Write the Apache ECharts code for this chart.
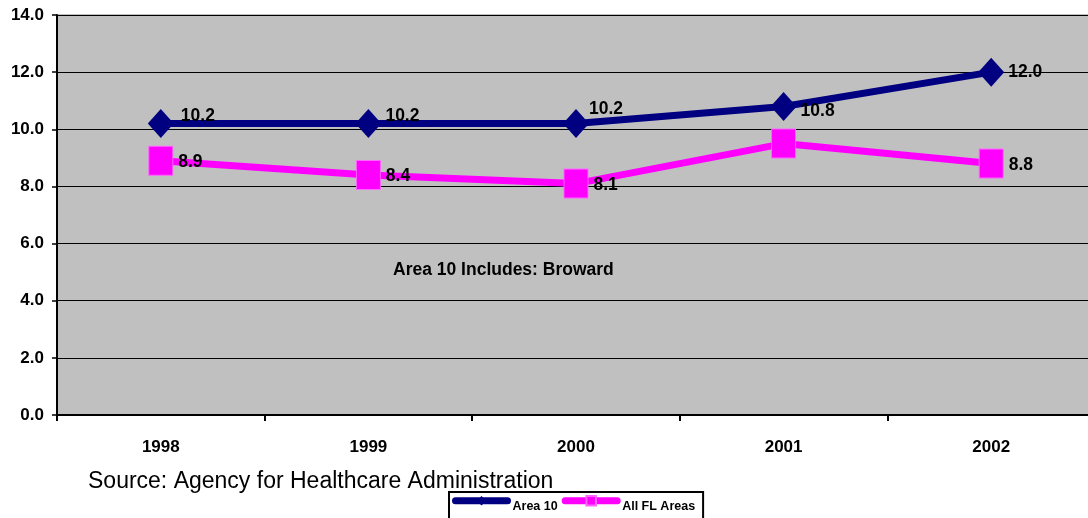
<!DOCTYPE html>
<html><head><meta charset="utf-8">
<script src="https://cdn.jsdelivr.net/npm/echarts@6/dist/echarts.min.js"></script>
<style>html,body{margin:0;padding:0;background:#fff}#c{width:1088px;height:518px}</style>
</head><body><div id="c"></div>
<script>
var categories = ['1998','1999','2000','2001','2002'];
var area10 = [10.2, 10.2, 10.2, 10.8, 12.0];
var allFL = [8.9, 8.4, 8.1, 9.5, 8.8];
var hiddenLabelsAllFL = [false, false, false, true, false];
var yTicks = {min: 0, max: 14, interval: 2};

// label placement tweaks (style only)
var area10LabelOffsets = [[3, -7], [0, -7], [-4, -14], [0, 5], [0, 0]];
var allFLLabelOffsets = [[1, 1], [1, 1], [1, 2], [1, 1], [1, 2]];

var chart = echarts.init(document.getElementById('c'));
var font = '"Liberation Sans", Arial, sans-serif';
function fmt(p){ return p.value.toFixed(1); }
chart.setOption({
  animation: false,
  grid: {left: 57, width: 1038, top: 15, height: 400, outerBoundsMode: 'none', containLabel: false, show: true, backgroundColor: '#C0C0C0', borderColor: '#808080', borderWidth: 1},
  xAxis: {
    type: 'category', data: categories, boundaryGap: true,
    axisLine: {lineStyle: {color: '#000', width: 2}},
    axisTick: {show: true, length: 6, lineStyle: {color: '#000', width: 2}},
    axisLabel: {color: '#000', fontFamily: font, fontWeight: 'bold', fontSize: 17, margin: 24}
  },
  yAxis: {
    type: 'value', min: yTicks.min, max: yTicks.max, interval: yTicks.interval,
    axisLine: {show: true, lineStyle: {color: '#000', width: 2}},
    axisTick: {show: true, length: 5, lineStyle: {color: '#000', width: 1.5}},
    splitLine: {lineStyle: {color: '#000', width: 1}},
    axisLabel: {color: '#000', fontFamily: font, fontWeight: 'bold', fontSize: 17, margin: 13,
      formatter: function(v){return v.toFixed(1);}}
  },
  legend: {
    left: 449, top: 492,
    backgroundColor: '#fff', borderColor: '#000', borderWidth: 2,
    padding: [3, 8, 14, 3], itemGap: 4, itemWidth: 52, itemHeight: 12,
    lineStyle: {width: 7, cap: 'round'},
    formatter: '{a|{name}}',
    textStyle: {color: '#000', fontFamily: font, fontWeight: 'bold', fontSize: 12.5,
      rich: {a: {color: '#000', fontFamily: font, fontWeight: 'bold', fontSize: 12.5, padding: [11, 0, 0, 0]}}},
    data: ['Area 10', 'All FL Areas']
  },
  graphic: [
    {type: 'text', left: 88, top: 470, style: {text: 'Source: Agency for Healthcare Administration', fill: '#000', font: '23px "Liberation Sans", Arial, sans-serif'}},
    {type: 'text', left: 393, top: 261, style: {text: 'Area 10 Includes: Broward', fill: '#000', font: 'bold 17.5px "Liberation Sans", Arial, sans-serif'}}
  ],
  series: [
    {
      name: 'Area 10', type: 'line',
      data: area10.map(function(v, i){ return {value: v, label: {offset: area10LabelOffsets[i]}}; }),
      symbol: 'diamond', symbolSize: [26, 29],
      lineStyle: {color: '#000080', width: 7},
      itemStyle: {color: '#000080'},
      label: {show: true, position: 'right', distance: 4, color: '#000', fontFamily: font, fontWeight: 'bold', fontSize: 17.5, formatter: fmt},
      z: 3
    },
    {
      name: 'All FL Areas', type: 'line',
      data: allFL.map(function(v, i){ return {value: v, label: {show: !hiddenLabelsAllFL[i], offset: allFLLabelOffsets[i]}}; }),
      symbol: 'rect', symbolSize: [24, 29],
      lineStyle: {color: '#FF00FF', width: 7},
      itemStyle: {color: '#FF00FF', borderColor: '#FF66FF', borderWidth: 1},
      label: {show: true, position: 'right', distance: 4, color: '#000', fontFamily: font, fontWeight: 'bold', fontSize: 17.5, formatter: fmt},
      z: 2
    }
  ]
});
</script></body></html>
